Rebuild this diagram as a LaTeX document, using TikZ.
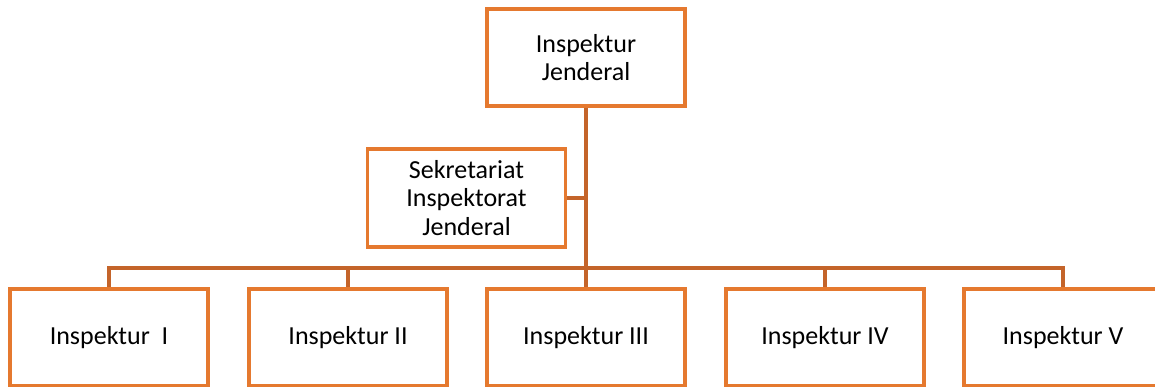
\documentclass[tikz,border=0pt]{standalone}
\usepackage{fontspec}
\setmainfont{Carlito}
\usepackage{xcolor}
\usetikzlibrary{calc}

\definecolor{boxorange}{HTML}{E5792F}
\definecolor{linkorange}{HTML}{C4642A}

\begin{document}
\begin{tikzpicture}[
		unitbox/.style={draw=boxorange, line width=0.9pt, fill=white,
			minimum width=1.98cm, minimum height=0.97cm, inner sep=0pt,
			align=center, text=black,
			font=\fontsize{7.4pt}{8pt}\selectfont},
		link/.style={draw=linkorange, line width=1pt}
	]
					\useasboundingbox (0,0) rectangle (11.55,3.87);

					\coordinate (bus) at (5.86,1.19);

					\path
						(5.86,3.295) node[unitbox] (irjen) {Inspektur\\Jenderal}
						(4.665,1.89) node[unitbox, minimum height=0.98cm] (sekret) {Sekretariat\\Inspektorat\\Jenderal}

						(1.09,0.495) node[unitbox] (insp1) {Inspektur\ \ I}
						(3.48,0.495) node[unitbox] (insp2) {Inspektur II}
						(5.86,0.495) node[unitbox] (insp3) {Inspektur III}
						(8.25,0.495) node[unitbox] (insp4) {Inspektur IV}
						(10.63,0.495) node[unitbox] (insp5) {Inspektur V};

					\draw[link]
						(irjen.south) -- (bus)
						(sekret.east) -- (sekret.east -| irjen.south);

					\draw[link]
						(bus) -| (insp1.north)
						(bus) -| (insp2.north)
						(bus) -- (insp3.north)
						(bus) -| (insp4.north)
						(bus) -| (insp5.north);
				\end{tikzpicture}
\end{document}
